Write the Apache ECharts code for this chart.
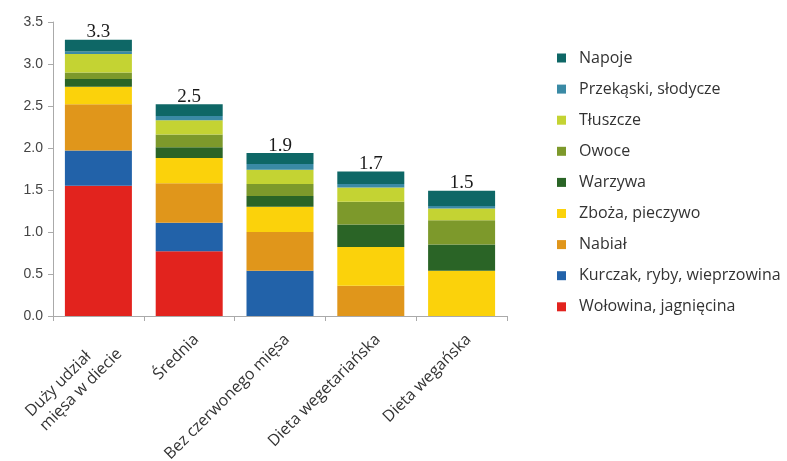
<!DOCTYPE html>
<html>
<head>
<meta charset="utf-8">
<script src="https://cdn.jsdelivr.net/npm/echarts@6/dist/echarts.min.js"></script>
<style>
  html, body { margin: 0; padding: 0; background: #ffffff; }
  #chart { width: 787px; height: 461px; }
</style>
</head>
<body>
<div id="chart"></div>
<script>
// Diet categories along the x axis
const categories = [
  'Duży udział\nmięsa w diecie',
  'Średnia',
  'Bez czerwonego mięsa',
  'Dieta wegetariańska',
  'Dieta wegańska'
];

// Stacked food groups, bottom to top
const wolowina   = [1.55, 0.77, 0,    0,    0];
const kurczak    = [0.42, 0.34, 0.54, 0,    0];
const nabial     = [0.55, 0.47, 0.46, 0.36, 0];
const zboza      = [0.21, 0.30, 0.30, 0.46, 0.54];
const warzywa    = [0.09, 0.13, 0.13, 0.27, 0.31];
const owoce      = [0.08, 0.15, 0.14, 0.27, 0.29];
const tluszcze   = [0.22, 0.17, 0.17, 0.17, 0.14];
const przekaski  = [0.03, 0.05, 0.07, 0.04, 0.03];
const napoje     = [0.14, 0.14, 0.13, 0.15, 0.18];

const yTicks = [0, 0.5, 1.0, 1.5, 2.0, 2.5, 3.0, 3.5];

const groups = [
  { name: 'Wołowina, jagnięcina',        data: wolowina,  color: '#e2231e' },
  { name: 'Kurczak, ryby, wieprzowina',  data: kurczak,   color: '#2262a9' },
  { name: 'Nabiał',                      data: nabial,    color: '#e0961b' },
  { name: 'Zboża, pieczywo',             data: zboza,     color: '#fbd20b' },
  { name: 'Warzywa',                     data: warzywa,   color: '#2a6426' },
  { name: 'Owoce',                       data: owoce,     color: '#7d992b' },
  { name: 'Tłuszcze',                    data: tluszcze,  color: '#c4d333' },
  { name: 'Przekąski, słodycze',         data: przekaski, color: '#3a8aa5' },
  { name: 'Napoje',                      data: napoje,    color: '#0e6766' }
];

// Bar totals shown above each stack
const totals = categories.map((_, i) =>
  groups.reduce((s, g) => s + g.data[i], 0)
);

const labelFont = 'Open Sans';
const labelSize = 16;

// Width of the widest line of a multi-line category label,
// so its lines can be left-aligned inside a right-anchored block
function lineWidth(text) {
  const ctx = document.createElement('canvas').getContext('2d');
  ctx.font = labelSize + 'px "' + labelFont + '"';
  return Math.ceil(ctx.measureText(text).width);
}

function categoryLabel(value) {
  if (value.indexOf('\n') < 0) return value;
  return value.split('\n').map(l => '{ml|' + l + '}').join('\n');
}

const multiWidth = Math.max(...categories
  .filter(c => c.indexOf('\n') >= 0)
  .flatMap(c => c.split('\n'))
  .map(lineWidth), 1);

const lastIdx = groups.length - 1;

const series = groups.map((g, gi) => ({
  name: g.name,
  type: 'bar',
  stack: 'diet',
  barWidth: 67,
  data: g.data,
  itemStyle: { color: g.color },
  emphasis: { disabled: true },
  label: gi === lastIdx ? {
    show: true,
    position: 'top',
    distance: -2,
    fontFamily: 'Liberation Serif',
    fontSize: 19,
    color: '#1a1a1a',
    formatter: p => (Math.round(totals[p.dataIndex] * 10) / 10).toFixed(1)
  } : { show: false }
}));

const chart = echarts.init(document.getElementById('chart'), null, { renderer: 'canvas' });

chart.setOption({
  animation: false,
  backgroundColor: '#ffffff',
  grid: {
    left: 53, right: 280, top: 22, bottom: 145,
    containLabel: false,
    outerBoundsMode: 'none'
  },
  legend: {
    orient: 'vertical',
    left: 552,
    top: 45,
    itemWidth: 9,
    itemHeight: 9,
    itemGap: 15.1,
    icon: 'rect',
    data: groups.map(g => g.name).reverse(),
    textStyle: {
      fontFamily: 'Open Sans', fontSize: 16, lineHeight: 16,
      color: '#333333', padding: [0, 0, 0, 8]
    }
  },
  xAxis: {
    type: 'category',
    data: categories,
    axisLine: { show: true, lineStyle: { color: '#aaaaaa', width: 1 } },
    axisTick: { show: true, alignWithLabel: false, length: 5, lineStyle: { color: '#aaaaaa' } },
    axisLabel: {
      rotate: 45,
      interval: 0,
      margin: 14,
      fontFamily: labelFont,
      fontSize: labelSize,
      color: '#333333',
      lineHeight: 20,
      align: 'right',
      verticalAlign: 'top',
      formatter: categoryLabel,
      rich: {
        ml: {
          width: multiWidth,
          align: 'left',
          fontFamily: labelFont,
          fontSize: labelSize,
          lineHeight: 20,
          color: '#333333'
        }
      }
    }
  },
  yAxis: {
    type: 'value',
    min: 0,
    max: 3.5,
    interval: 0.5,
    axisLine: { show: true, lineStyle: { color: '#aaaaaa', width: 1 } },
    axisTick: { show: true, length: 5, lineStyle: { color: '#aaaaaa' } },
    splitLine: { show: false },
    axisLabel: {
      margin: 10,
      fontFamily: 'Liberation Sans',
      fontSize: 14,
      color: '#444444',
      formatter: v => (yTicks.includes(v) ? v.toFixed(1) : '')
    }
  },
  series: series
});
</script>
</body>
</html>
